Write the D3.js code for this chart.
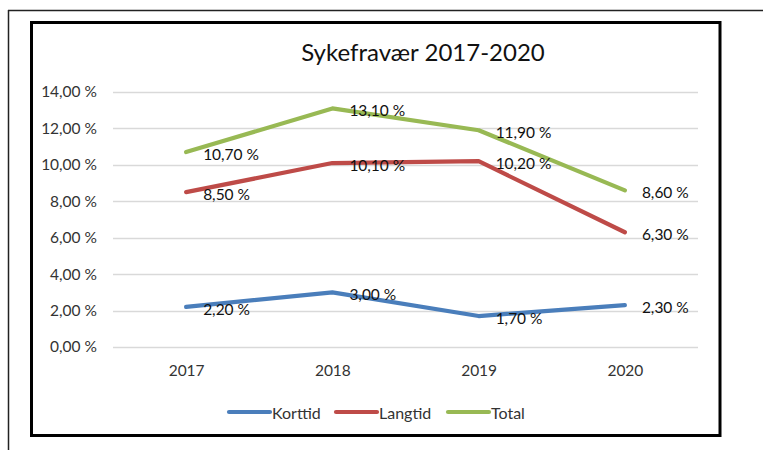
<!DOCTYPE html>
<html>
<head>
<meta charset="utf-8">
<script src="https://cdn.jsdelivr.net/npm/d3@7"></script>
<style>
  html, body { margin: 0; padding: 0; background: #fff; }
  svg { display: block; font-family: Lato, "Liberation Sans", Arial, sans-serif; }
</style>
</head>
<body>
<svg id="chart" width="763" height="450"></svg>
<script>
const years = ["2017", "2018", "2019", "2020"];
const korttid = [2.2, 3.0, 1.7, 2.3];
const langtid = [8.5, 10.1, 10.2, 6.3];
const total = [10.7, 13.1, 11.9, 8.6];
const seriesNames = ["Korttid", "Langtid", "Total"];
const seriesColors = ["#4A7EBB", "#BE4B48", "#98B954"];
const yTicks = [0, 2, 4, 6, 8, 10, 12, 14];
const title = "Sykefravær 2017-2020";

const FONT = "Lato, 'Liberation Sans', Arial, sans-serif";
const svg = d3.select("#chart");
const fmt = v => v.toFixed(2).replace(".", ",") + " %";

// outer frame lines
svg.append("line").attr("x1", 8).attr("y1", 10.5).attr("x2", 763).attr("y2", 10.5)
  .attr("stroke", "#222").attr("stroke-width", 1.5);
svg.append("line").attr("x1", 8.5).attr("y1", 10).attr("x2", 8.5).attr("y2", 450)
  .attr("stroke", "#222").attr("stroke-width", 1.5);
// inner chart border
svg.append("rect").attr("x", 31.5).attr("y", 22.5).attr("width", 688.5).attr("height", 413)
  .attr("fill", "#fff").attr("stroke", "#000").attr("stroke-width", 3);

const x = d3.scalePoint().domain(years).range([113, 698]).padding(0.5);
const y = d3.scaleLinear().domain([0, 14]).range([347, 92]);

// gridlines
svg.append("g").selectAll("line").data(yTicks).join("line")
  .attr("x1", 113).attr("x2", 698)
  .attr("y1", d => Math.round(y(d)) + 0.5).attr("y2", d => Math.round(y(d)) + 0.5)
  .attr("stroke", "#d9d9d9").attr("stroke-width", 1.3);

// y axis labels
const yAxis = d3.axisLeft(y).tickValues(yTicks).tickFormat(fmt).tickSize(0).tickPadding(0);
const gy = svg.append("g").attr("transform", "translate(97,0)").call(yAxis);
gy.select(".domain").remove();
gy.selectAll("text").attr("font-size", 15.5).attr("fill", "#333")
  .attr("font-family", FONT);

// x axis labels
const xAxis = d3.axisBottom(x).tickSize(0).tickPadding(0);
const gx = svg.append("g").attr("transform", "translate(0,365)").call(xAxis);
gx.select(".domain").remove();
gx.selectAll("text").attr("font-size", 15.5).attr("fill", "#333")
  .attr("font-family", FONT);

// title
svg.append("text").attr("x", 423).attr("y", 61).attr("text-anchor", "middle")
  .attr("font-size", 24).attr("fill", "#111").text(title);

const allSeries = [korttid, langtid, total];
const line = d3.line().x((d, i) => x(years[i])).y(d => y(d));

allSeries.forEach((vals, si) => {
  svg.append("path").datum(vals).attr("d", line)
    .attr("fill", "none").attr("stroke", seriesColors[si]).attr("stroke-width", 4.2)
    .attr("stroke-linecap", "round").attr("stroke-linejoin", "round");
});
allSeries.forEach((vals, si) => {
  svg.append("g").selectAll("text").data(vals).join("text")
    .attr("x", (d, i) => x(years[i]) + 17)
    .attr("y", d => y(d) + 2)
    .attr("dominant-baseline", "central")
    .attr("font-size", 15.5).attr("fill", "#111")
    .text(d => fmt(d));
});

// legend
const legendX = [229, 336, 448];
const legendY = 412;
seriesNames.forEach((name, i) => {
  svg.append("line").attr("x1", legendX[i]).attr("x2", legendX[i] + 41)
    .attr("y1", legendY).attr("y2", legendY)
    .attr("stroke", seriesColors[i]).attr("stroke-width", 4.2).attr("stroke-linecap", "round");
  svg.append("text").attr("x", legendX[i] + 43).attr("y", legendY)
    .attr("dominant-baseline", "central").attr("font-size", 16).attr("fill", "#333")
    .text(name);
});
</script>
</body>
</html>
